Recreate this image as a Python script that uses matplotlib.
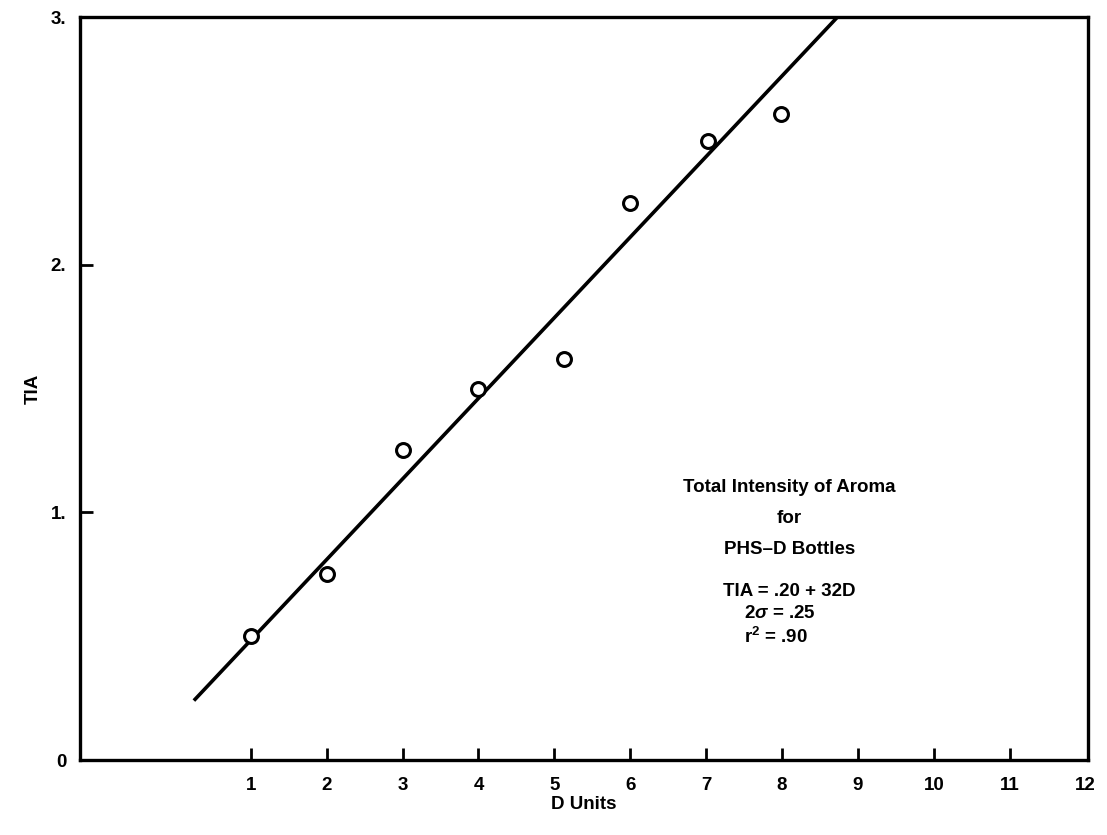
import numpy as np
from matplotlib import pyplot as plt

## Data
d_units = [1.0, 2.0, 3.0, 4.0, 5.12, 6.0, 7.02, 7.98]
tia = [0.50, 0.75, 1.25, 1.50, 1.62, 2.25, 2.50, 2.61]

# fitted line as drawn (end points)
fit_x = [0.25, 8.73]
fit_y = [0.24, 3.00]

x_ticks = [1, 2, 3, 4, 5, 6, 7, 8, 9, 10, 11, 12]
y_ticks = [0, 1, 2, 3]
y_tick_labels = ['0', '1.', '2.', '3.']

note_lines = ['Total Intensity of Aroma', 'for', 'PHS\u2013D Bottles']
stat_lines = ['TIA = .20 + 32D', '2$\\sigma$ = .25', 'r$^2$ = .90']

plt.rcParams['font.family'] = ['Liberation Sans', 'DejaVu Sans']
plt.rcParams['font.weight'] = 'bold'
plt.rcParams['mathtext.fontset'] = 'custom'
plt.rcParams['mathtext.rm'] = 'Liberation Sans:bold'
plt.rcParams['mathtext.it'] = 'Liberation Sans:bold:italic'

fs = 13.5

fig = plt.figure(figsize=(11.07, 8.35), dpi=100)
ax = fig.add_axes([0.0723, 0.0898, 0.9105, 0.8898])

ax.plot(fit_x, fit_y, color='black', lw=2.6, solid_capstyle='butt')
ax.plot(d_units, tia, 'o', ms=10, mfc='white', mec='black', mew=2.2)

ax.set_xlim(-1.25, 12.03)
ax.set_ylim(0, 3)

ax.set_xticks(x_ticks)
ax.set_xticklabels([str(t) for t in x_ticks])
ax.set_yticks(y_ticks)
ax.set_yticklabels(y_tick_labels)
ax.tick_params(axis='x', direction='in', length=9, width=2.0,
               labelsize=fs, pad=12)
ax.tick_params(axis='y', direction='in', length=9, width=2.0,
               labelsize=fs, pad=10)
# no visible mark at 0 or 3 on y, nor at 12 on x
ax.yaxis.get_major_ticks()[0].tick1line.set_visible(False)
ax.yaxis.get_major_ticks()[-1].tick1line.set_visible(False)
ax.xaxis.get_major_ticks()[-1].tick1line.set_visible(False)
for lbl in ax.get_xticklabels() + ax.get_yticklabels():
    lbl.set_fontweight('bold')

for sp in ax.spines.values():
    sp.set_linewidth(2.4)

ax.set_xlabel('D Units', fontsize=fs, fontweight='bold', labelpad=2)
ax.set_ylabel('TIA', fontsize=fs, fontweight='bold', labelpad=6)

# annotation block
for i, txt in enumerate(note_lines):
    ax.text(8.1, 1.1 - i * 0.125, txt, ha='center', va='center',
            fontsize=fs, fontweight='bold')
ax.text(8.1, 0.68, stat_lines[0], ha='center', va='center',
        fontsize=fs, fontweight='bold')
ax.text(7.5, 0.59, stat_lines[1], ha='left', va='center',
        fontsize=fs, fontweight='bold')
ax.text(7.5, 0.495, stat_lines[2], ha='left', va='center',
        fontsize=fs, fontweight='bold')

plt.savefig('out.png', dpi=100)
